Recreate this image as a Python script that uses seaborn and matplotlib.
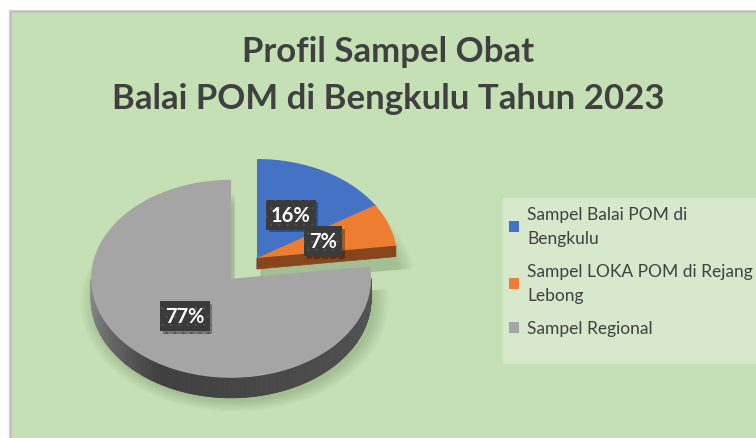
import numpy as np
import matplotlib
matplotlib.use("Agg")
import matplotlib.pyplot as plt
import matplotlib.patheffects as pe
from matplotlib.patches import Rectangle, Polygon
from matplotlib.colors import to_rgb
import seaborn as sns

# ---------------- data ----------------
categories = ["Sampel Balai POM di Bengkulu",
              "Sampel LOKA POM di Rejang Lebong",
              "Sampel Regional"]
legend_labels = ["Sampel Balai POM di\nBengkulu",
                 "Sampel LOKA POM di Rejang\nLebong",
                 "Sampel Regional"]
values = [16, 7, 77]
explode = [0.0, 0.0, 0.28]
title_lines = ["Profil Sampel Obat", "Balai POM di Bengkulu Tahun 2023"]

# ---------------- style ----------------
sns.set_style("white")
plt.rcParams['font.family'] = ['Lato', 'DejaVu Sans']
plt.rcParams['hatch.linewidth'] = 0.6

top_colors = ["#4472C4", "#ED7D31", "#A5A5A5"]
face_colors = ["#2F528F", "#86451A", "#454545"]
bg_green = "#C5E0B4"
legend_bg = "#D8E8CC"
text_col = "#404040"

W, H = 756, 439
fig = plt.figure(figsize=(W / 100, H / 100), dpi=100)
fig.patch.set_facecolor("white")

# chart area panel
fig.add_artist(Rectangle((9.5 / W, -0.02), 1.1, (H - 12) / H + 0.02,
                         transform=fig.transFigure, facecolor=bg_green,
                         edgecolor="#BFBFBF", linewidth=1.8, zorder=0))
# legend panel
fig.add_artist(Rectangle((503 / W, (H - 365) / H), (W - 503) / W + 0.01,
                         (365 - 199) / H, transform=fig.transFigure,
                         facecolor=legend_bg, edgecolor="none", zorder=0.5))

# ---------------- pie axes ----------------
cx_px, cy_px = 257, H - 259      # pie centre in pixels (from bottom)
sx, sy = 140.0, 99.0             # pixels per data unit (x, y) -> tilted look
x0, x1, y0, y1 = 40, 470, 10, 300
ax = fig.add_axes([x0 / W, y0 / H, (x1 - x0) / W, (y1 - y0) / H])

wedges, texts, autotexts = ax.pie(
    values, explode=explode, colors=top_colors, startangle=90,
    counterclock=False, autopct="%1.0f%%", pctdistance=0.5,
    wedgeprops=dict(linewidth=0), textprops=dict(color="white"))
for w in wedges:
    w.set_zorder(3)

ax.set_aspect("auto")
ax.set_xlim((x0 - cx_px) / sx, (x1 - cx_px) / sx)
ax.set_ylim((y0 - cy_px) / sy, (y1 - cy_px) / sy)
ax.axis("off")
ax.patch.set_alpha(0)

depth = 20 / sy


def P(c, r, th):
    t = np.deg2rad(th)
    return np.array([c[0] + r * np.cos(t), c[1] + r * np.sin(t)])


def mix(a, b, f):
    a, b = np.array(to_rgb(a)), np.array(to_rgb(b))
    return tuple(a + (b - a) * np.clip(f, 0, 1))


# soft shadow under every slice
for w in wedges:
    c, r, t1, t2 = w.center, w.r, w.theta1, w.theta2
    ths = np.linspace(t1, t2, 120)
    for k in range(8):
        rr = r * (1.0 + 0.014 * k)
        cc = (c[0] + 0.025, c[1] - depth - 0.04)
        pts = [np.array(cc)] + [P(cc, rr, t) for t in ths]
        ax.add_patch(Polygon(pts, closed=True, facecolor="#4F6B3F",
                             edgecolor="none", alpha=0.035, zorder=1))

# outer side walls (front half only)
for i, w in enumerate(wedges):
    c, r, t1, t2 = w.center, w.r, w.theta1, w.theta2
    ths = np.linspace(t1, t2, 400)
    for a, b in zip(ths[:-1], ths[1:]):
        m = 0.5 * (a + b)
        if np.sin(np.deg2rad(m)) >= 0:
            continue
        mm = (m + 360) % 360          # 180..360
        if i == 2:
            if mm < 240:
                col = mix("#939393", "#3F3F3F", (mm - 180) / 60)
            else:
                col = mix("#3F3F3F", "#555555", (mm - 240) / 120)
        else:
            col = face_colors[i]
        pa, pb = P(c, r, a), P(c, r, b)
        quad = [pa, pb, pb - [0, depth], pa - [0, depth]]
        ax.add_patch(Polygon(quad, closed=True, facecolor=col,
                             edgecolor=col, linewidth=0.6, zorder=2))

# radial cut faces facing the viewer
for i, w in enumerate(wedges):
    c, r, t1, t2 = w.center, w.r, w.theta1, w.theta2
    for edge, normal in ((t1, t1 - 90), (t2, t2 + 90)):
        if np.sin(np.deg2rad(normal)) < -0.2:
            pc, pr = np.array(c), P(c, r, edge)
            d = depth * 0.55
            quad = [pc, pr, pr - [0, d], pc - [0, d]]
            ax.add_patch(Polygon(quad, closed=True, facecolor=face_colors[i],
                                 edgecolor=face_colors[i], linewidth=0.5,
                                 zorder=2.5))

# data labels
for t in autotexts:
    t.set_fontsize(14.5)
    t.set_fontweight("bold")
    t.set_zorder(6)
    t.set_bbox(dict(boxstyle="square,pad=0.25", facecolor="#3A3A3A",
                    edgecolor="#505050", hatch="..", linewidth=0))
    t.get_bbox_patch().set_path_effects(
        [pe.withSimplePatchShadow(offset=(2, -2), shadow_rgbFace="black",
                                  alpha=0.3)])

# ---------------- title ----------------
for k, line in enumerate(title_lines):
    fig.text(388 / W, 1 - (52 + 47 * k) / H, line, ha="center", va="center",
             fontsize=25, fontweight="bold", color=text_col)

# ---------------- legend ----------------
leg = fig.legend(wedges, legend_labels, loc="upper left",
                 bbox_to_anchor=(509 / W, 1 - 207 / H), frameon=False,
                 fontsize=12.5, handlelength=0.6, handleheight=0.6,
                 handletextpad=0.45, labelspacing=1.0, borderaxespad=0,
                 borderpad=0)
for t in leg.get_texts():
    t.set_color(text_col)
    t.set_linespacing(1.6)

fig.savefig("out.png", dpi=100, facecolor=fig.get_facecolor())
